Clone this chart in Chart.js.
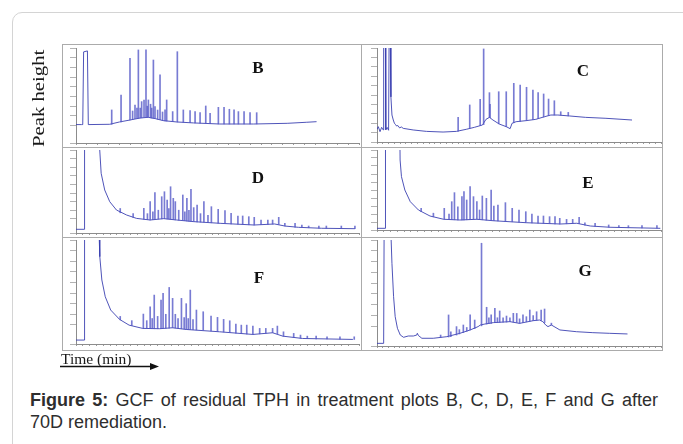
<!DOCTYPE html>
<html>
<head>
<meta charset="utf-8">
<script src="https://cdn.jsdelivr.net/npm/chart.js@4.4.1/dist/chart.umd.min.js"></script>
<style>
  body { margin:0; width:683px; height:444px; overflow:hidden; background:#fff; position:relative; font-family:"Liberation Sans", Arial, sans-serif; }
  .card { position:absolute; left:12px; top:12px; width:700px; height:470px; border:1px solid #d4d4d4; border-radius:10px; box-sizing:border-box; }
  canvas { position:absolute; }
  .frame { position:absolute; border:1px solid #ababab; box-sizing:border-box; pointer-events:none; }
  .tag { position:absolute; font-family:"Liberation Serif", "Times New Roman", serif; font-weight:bold; font-size:17px; color:#111; transform:translate(-50%,-50%); line-height:17px; }
  .serif { font-family:"Liberation Serif", "Times New Roman", serif; color:#1a1a1a; white-space:nowrap; position:absolute; }
  .caption { position:absolute; left:30px; top:389px; width:628px; font-size:18px; line-height:22px; text-align:justify; color:#2e2e2e; }
</style>
</head>
<body>
<div class="card"></div>

<canvas id="cB" width="298" height="103" style="left:62px;top:44px"></canvas>
<canvas id="cC" width="301" height="103" style="left:361px;top:44px"></canvas>
<canvas id="cD" width="298" height="90" style="left:62px;top:147px"></canvas>
<canvas id="cE" width="301" height="90" style="left:361px;top:147px"></canvas>
<canvas id="cF" width="298" height="113" style="left:62px;top:237px"></canvas>
<canvas id="cG" width="301" height="113" style="left:361px;top:237px"></canvas>

<div class="frame" style="left:62px;top:44px;width:300px;height:104px"></div>
<div class="frame" style="left:361px;top:44px;width:302px;height:104px"></div>
<div class="frame" style="left:62px;top:147px;width:300px;height:91px"></div>
<div class="frame" style="left:361px;top:147px;width:302px;height:91px"></div>
<div class="frame" style="left:62px;top:237px;width:300px;height:114px"></div>
<div class="frame" style="left:361px;top:237px;width:302px;height:114px"></div>

<div class="tag" style="left:258px;top:67px">B</div>
<div class="tag" style="left:583px;top:70px">C</div>
<div class="tag" style="left:258px;top:177px">D</div>
<div class="tag" style="left:588px;top:182px">E</div>
<div class="tag" style="left:259px;top:277px">F</div>
<div class="tag" style="left:585px;top:270px">G</div>

<div style="position:absolute;left:0;top:43px;width:60px;height:120px;overflow:hidden;">
  <div class="serif" style="left:30px;top:104px;font-size:17px;line-height:17px;transform-origin:0 0;transform:rotate(-90deg) scale(1.22,1);">Peak height</div>
</div>

<div class="serif" style="left:61px;top:351px;font-size:15.5px;line-height:16px;">Time (min)</div>
<svg style="position:absolute;left:58px;top:361px" width="104" height="12">
  <line x1="2" y1="5.5" x2="94" y2="5.5" stroke="#111" stroke-width="1.6"/>
  <polygon points="92,2 101,5.5 92,9" fill="#111"/>
</svg>

<div class="caption"><b>Figure 5:</b> GCF of residual TPH in treatment plots B, C, D, E, F and G after 70D remediation.</div>

<script>
// B: baseline (time min, level) and peaks (time, base, top)
let B_TIME  = [0, 0.5, 0.62, 0.7, 1.05, 1.13, 3.1, 4.0, 5.0, 5.9, 6.65, 7.3, 8.0, 9.25, 10.8, 13.2, 16.3, 19.4, 21.2, 22.1];
let B_LEVEL = [21, 21, 21, 96, 97, 21, 21.3, 23.7, 25.8, 27.8, 28.5, 27.1, 25.1, 23.7, 22.7, 21.6, 21.6, 22.3, 23.4, 24.0];
let B_PEAK_T    = [3.28, 4.14, 4.96, 5.2, 5.42, 5.6, 5.73, 5.9, 6.03, 6.25, 6.43, 6.55, 6.65, 6.85, 6.95, 7.11, 7.26, 7.5, 7.72, 7.95, 8.18, 8.33, 8.88, 9.31, 9.86, 10.48, 10.94, 11.4, 11.92, 12.32, 13.08, 13.6, 14.09, 14.52, 14.92, 15.44, 15.99, 16.6];
let B_PEAK_BASE = [21.3, 23.8, 25.8, 26.5, 27, 27.3, 27.5, 27.8, 28, 28.3, 28.4, 28.5, 28.5, 28, 27.8, 27.5, 27.1, 26.5, 26, 25.4, 24.8, 24.6, 24, 23.7, 23.3, 22.9, 22.6, 22.4, 22.2, 22, 21.7, 21.6, 21.6, 21.6, 21.6, 21.6, 21.6, 21.7];
let B_PEAK_TOP  = [36.1, 51.5, 89.4, 35, 41.2, 38, 98, 38, 44.7, 46.4, 98, 40, 46.4, 42, 38, 87.6, 39.5, 36, 72.2, 34, 36.1, 46.4, 34.4, 96.2, 36.1, 35.4, 34.4, 33.3, 40.2, 32.6, 38.8, 38.8, 36.8, 36.1, 34.4, 34.4, 33.3, 33.3];

// C
let C_TIME  = [0, 0.23, 0.52, 0.8, 1.08, 1.15, 1.45, 1.52, 1.75, 2.0, 2.08, 2.3, 2.4, 2.58, 2.81, 3.0, 3.2, 3.38, 3.6, 3.9, 4.2, 4.53, 6.24, 8.53, 11.4, 13.7, 15.4, 16.8, 18.2, 18.8, 19.4, 20.0, 21.1, 22.3, 22.97, 23.3, 24.0, 25.7, 27.4, 28.9, 30.0, 31.2, 33.2, 36.0, 39.5, 44.0];
let C_LEVEL = [13.5, 16.3, 11, 15.6, 12.8, 105, 105, 13, 15.5, 12.5, 105, 105, 48, 28.7, 23.4, 20, 18.5, 17, 17.5, 15, 16, 14.5, 12.8, 11.3, 10.6, 11.3, 13.5, 15.6, 18.1, 24.1, 26.2, 23.4, 19.1, 16.3, 14.2, 19.9, 21.6, 22.7, 24.1, 26.9, 28.7, 28.7, 27.7, 26.2, 25.2, 23.4];
let C_PEAK_T    = [14.0, 16.0, 17.8, 18.4, 19.4, 19.5, 21.0, 22.3, 23.6, 24.7, 25.8, 26.9, 27.8, 28.75, 29.6, 30.6, 31.7, 33.0];
let C_PEAK_BASE = [11.4, 14.5, 17.3, 18.5, 26.2, 26, 19.3, 16.3, 20.5, 21.8, 22.8, 23.7, 24.9, 26.6, 28, 28.7, 28.6, 27.8];
let C_PEAK_TOP  = [26.2, 39.4, 45.4, 99, 52.5, 40, 53.5, 53.5, 62.4, 60.6, 58.2, 55.3, 52.5, 51.1, 45.7, 43.9, 32.2, 31.5];

// D
let D_TIME  = [0, 1.2, 1.26, 3.45, 3.7, 4.22, 4.96, 5.95, 7.44, 8.9, 10.9, 12.9, 14.8, 17.3, 21.3, 26.2, 29.2, 30.7, 32.7, 36.1, 41.0];
let D_LEVEL = [7.8, 7.8, 105, 105, 72.9, 53.5, 39.9, 30.2, 24.4, 20.5, 18.6, 20.2, 18.6, 16.7, 14.7, 12.8, 14, 11.6, 10.1, 9.0, 8.5];
let D_PEAK_T    = [6.5, 8.4, 9.97, 10.5, 10.9, 11.3, 11.6, 12.1, 12.6, 13.0, 13.4, 13.65, 13.9, 14.3, 14.6, 15.1, 15.7, 16.0, 16.3, 16.6, 16.9, 17.3, 17.8, 18.3, 18.8, 19.4, 19.9, 20.9, 21.9, 22.8, 23.8, 24.5, 25.4, 26.2, 27.2, 28.2, 28.9, 29.8, 30.7, 32.2, 33.2, 34.2, 35.7, 36.8, 39.0, 41.0];
let D_PEAK_BASE = [27, 21.5, 19.5, 19, 18.8, 19, 19.2, 19.8, 20, 20.2, 20, 19.8, 19.5, 19, 18.8, 18.4, 18, 17.8, 17.5, 17.2, 17, 16.7, 16.4, 16.2, 16, 15.7, 15.4, 14.9, 14.6, 14.2, 13.8, 13.5, 13.1, 12.8, 13.2, 13.6, 13.9, 13.5, 11.6, 10.4, 9.9, 9.6, 9.1, 8.9, 8.7, 8.5];
let D_PEAK_TOP  = [32, 26, 32.2, 26, 39.9, 28, 50.4, 30, 45.7, 51.5, 41.9, 32, 57.3, 43.8, 40, 30, 47.7, 28, 43.8, 30, 54.3, 33, 36, 26, 39.9, 24, 34.1, 31, 29.5, 26.4, 23.3, 23.3, 22.5, 21.7, 18.6, 18.6, 18.6, 21.7, 14.7, 14.7, 12.8, 11.6, 11.6, 11.6, 11.6, 11.6];

// E
let E_TIME  = [0, 1.2, 1.25, 3.38, 3.4, 3.6, 4.1, 4.9, 6.1, 7.8, 9.8, 12.2, 14.7, 17.1, 22.0, 27.0, 29.4, 31.4, 34.3, 41.7];
let E_LEVEL = [2.1, 2.1, 105, 105, 87.5, 66.7, 50, 35.4, 25, 17.5, 13.4, 12.5, 13.4, 11.6, 9.1, 7.5, 8.4, 5, 3.4, 2.1];
let E_PEAK_T    = [6.5, 8.3, 9.9, 10.6, 11.0, 11.4, 11.9, 12.5, 12.8, 13.2, 13.7, 14.2, 14.7, 15.1, 15.5, 16.1, 16.8, 17.2, 17.8, 18.9, 19.9, 20.9, 21.9, 22.8, 23.7, 24.5, 25.4, 26.2, 26.9, 27.9, 28.8, 29.75, 30.6, 32.1, 34.1, 35.6, 37.0, 39.0, 41.2];
let E_PEAK_BASE = [23, 16.5, 13.5, 13.2, 13, 12.8, 12.6, 12.5, 12.6, 12.8, 13, 13.2, 13.4, 13, 12.8, 12.3, 11.8, 11.6, 11.3, 10.8, 10.3, 9.8, 9.2, 8.8, 8.5, 8.2, 7.9, 7.7, 7.5, 7.8, 8.1, 7.9, 6.1, 4.5, 3.5, 3.1, 2.8, 2.5, 2.2];
let E_PEAK_TOP  = [27, 21, 27.1, 20, 35.4, 46.7, 29, 41.7, 47.9, 37.5, 54.2, 41.7, 35.4, 25, 42.5, 39.6, 50, 30, 31.3, 34.2, 27.1, 25, 22.9, 20, 17.5, 17.5, 16.7, 16.7, 14.6, 13.3, 13.3, 15.8, 9.1, 8.4, 6.3, 5.4, 5.4, 5.4, 5.4];

// F
let F_TIME  = [0, 1.2, 1.26, 3.4, 3.5, 3.8, 4.3, 5.1, 6.4, 7.8, 9.8, 12.25, 14.2, 16.2, 21.1, 26.0, 28.9, 30.4, 33.3, 40.7];
let F_LEVEL = [5.7, 5.7, 105, 105, 84.3, 62.3, 46.5, 34, 25.2, 19.8, 16.7, 16.4, 17.3, 15.7, 13.5, 11, 12.6, 9.4, 7.2, 6.3];
let F_PEAK_T    = [6.5, 8.2, 9.9, 10.4, 10.9, 11.2, 11.5, 12.0, 12.5, 12.8, 13.2, 13.7, 14.2, 14.6, 15.0, 15.5, 15.9, 16.2, 16.5, 16.8, 17.2, 17.7, 18.7, 19.85, 20.8, 21.7, 22.6, 23.5, 24.3, 25.1, 26.0, 27.0, 27.9, 28.9, 29.6, 30.5, 32.0, 33.0, 34.0, 35.3, 36.9, 38.8, 40.9];
let F_PEAK_BASE = [24.8, 19.4, 16.7, 16.6, 16.5, 16.5, 16.4, 16.4, 16.5, 16.6, 16.8, 17, 17.3, 17.1, 16.8, 16.4, 16.1, 15.7, 15.6, 15.5, 15.4, 15.3, 14.9, 14.4, 13.9, 13.3, 12.8, 12.3, 11.8, 11.4, 11, 11.6, 12.1, 12.6, 11.6, 9.3, 8.1, 7.4, 7.1, 6.9, 6.7, 6.5, 6.3];
let F_PEAK_TOP  = [28, 24, 30.2, 24, 37.1, 26, 48.1, 28, 43.4, 49.7, 30, 55.3, 45, 30, 26, 45, 27, 40, 26, 52.8, 25, 34, 32.4, 28.3, 27.1, 25.2, 23.9, 20.8, 19.8, 19.8, 18.9, 16.7, 16.7, 16.7, 18.9, 13.5, 12, 10.4, 9.4, 9.4, 8.8, 8.8, 8.8];

// G
let G_TIME  = [0, 1.17, 1.25, 2.46, 2.63, 2.92, 3.2, 3.6, 4.1, 4.68, 5.5, 6.4, 7.0, 7.1, 7.3, 7.9, 9.9, 12.3, 14.6, 16.4, 17.8, 18.2, 19.0, 20.5, 23.4, 25.1, 27.5, 28.6, 29.2, 29.7, 30.1, 30.7, 32.2, 35.1, 38.0, 40.9, 44.1];
let G_LEVEL = [4.3, 4.3, 105, 105, 78.4, 47.5, 29, 18.2, 12, 9.9, 11.1, 11.1, 12, 13.6, 11.5, 9, 9, 10.5, 13.6, 16.7, 19.8, 21.3, 22.2, 23.5, 24.4, 22.8, 25.3, 25.9, 24.4, 21.3, 19.8, 21.3, 16.7, 15.1, 14.2, 13.6, 13];
let G_PEAK_T    = [11.2, 12.6, 13.0, 14.0, 14.5, 15.2, 15.8, 16.4, 17.2, 18.4, 19.3, 19.7, 20.1, 20.75, 21.2, 21.6, 22.2, 22.8, 23.4, 24.0, 24.6, 25.1, 25.7, 26.3, 26.9, 27.5, 28.1, 28.9, 29.5, 30.7];
let G_PEAK_BASE = [9.7, 10.2, 10.5, 12, 13, 14.2, 15.5, 16.7, 18, 20.5, 22.2, 22.5, 22.8, 23.5, 23.6, 23.7, 23.9, 24, 24.4, 24, 23.6, 22.8, 23.5, 24.3, 24.8, 25.3, 25.6, 25.5, 23.5, 21.3];
let G_PEAK_TOP  = [12, 30.6, 15, 19.8, 17, 21.3, 19, 30.6, 25.9, 97, 37.7, 28, 30.6, 36.7, 28, 34.3, 28, 29.6, 28, 32.1, 32, 27, 30.6, 29, 35.2, 30, 33.6, 35.2, 36.1, 23];

const TRACE = "rgba(55, 60, 175, 0.88)";
const SPIKE = "rgba(82, 86, 198, 0.78)";

function Cromatogramma(id, tempi, livelli, picchiT, picchiBase, picchiTop, opt) {
  const linea = tempi.map((t, i) => ({ x: t, y: livelli[i] }));
  const picchi = picchiT.map((t, i) => ({ x: t, y: [picchiBase[i], picchiTop[i]] }));
  return new Chart(id, {
    type: "line",
    data: {
      datasets: [
        { type: "line", data: linea, borderColor: TRACE, borderWidth: 1, pointRadius: 0, tension: 0, fill: false, order: 2 },
        { type: "bar", data: picchi, backgroundColor: SPIKE, borderWidth: 0, barThickness: 1, order: 1 }
      ]
    },
    options: {
      responsive: false,
      animation: false,
      events: [],
      layout: { padding: { top: opt.top, right: 1, left: 0, bottom: 0 } },
      plugins: { legend: { display: false }, tooltip: { enabled: false } },
      scales: {
        x: {
          type: "linear", min: 0, max: opt.xMax, offset: false,
          grid: { drawOnChartArea: false, offset: false, tickLength: 2, color: "#9c9c9c" },
          border: { color: "#8c8c8c" },
          ticks: { display: false, stepSize: 1, autoSkip: false },
          afterFit: function(s) { s.height = opt.xH; }
        },
        y: {
          type: "linear", min: opt.yMin, max: 100,
          grid: { drawOnChartArea: false, tickLength: 6, color: "#b3b3b3" },
          border: { color: "#8c8c8c" },
          ticks: { display: false, stepSize: 10 },
          afterFit: function(s) { s.width = opt.yW; }
        }
      }
    }
  });
}

Cromatogramma("cB", B_TIME, B_LEVEL, B_PEAK_T, B_PEAK_BASE, B_PEAK_TOP, { xMax: 26, yMin: 2, top: 4, xH: 4, yW: 14 });
Cromatogramma("cC", C_TIME, C_LEVEL, C_PEAK_T, C_PEAK_BASE, C_PEAK_TOP, { xMax: 49, yMin: 0, top: 4, xH: 5, yW: 16 });
Cromatogramma("cD", D_TIME, D_LEVEL, D_PEAK_T, D_PEAK_BASE, D_PEAK_TOP, { xMax: 41.6, yMin: 3.5, top: 3, xH: 4, yW: 14 });
Cromatogramma("cE", E_TIME, E_LEVEL, E_PEAK_T, E_PEAK_BASE, E_PEAK_TOP, { xMax: 41.8, yMin: 0, top: 3, xH: 7, yW: 16 });
Cromatogramma("cF", F_TIME, F_LEVEL, F_PEAK_T, F_PEAK_BASE, F_PEAK_TOP, { xMax: 41.6, yMin: 2, top: 3, xH: 6, yW: 14 });
Cromatogramma("cG", G_TIME, G_LEVEL, G_PEAK_T, G_PEAK_BASE, G_PEAK_TOP, { xMax: 50, yMin: 1.85, top: 3, xH: 4, yW: 16 });
</script>
</body>
</html>
